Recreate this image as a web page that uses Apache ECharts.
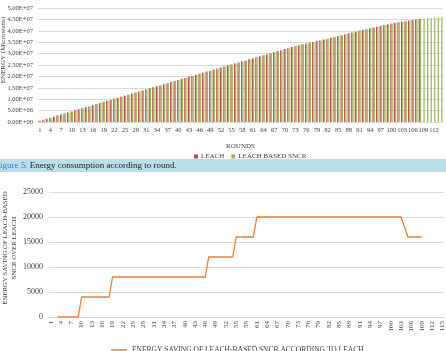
<!DOCTYPE html>
<html>
<head>
<meta charset="utf-8">
<script src="https://cdn.jsdelivr.net/npm/echarts@6/dist/echarts.min.js"></script>
<style>
html,body{margin:0;padding:0;background:#fff;}
#main{width:446px;height:351px;}
</style>
</head>
<body>
<div id="main"></div>
<script>
// rounds (categories) for both charts
var roundsTop = [];
for (var i = 1; i <= 114; i++) roundsTop.push(String(i));
var roundsBottom = [];
for (var j = 1; j <= 115; j++) roundsBottom.push(String(j));

// energy consumption, microwatts
var leachEnergy = [
    0.5e6, 0.95e6, 1.4e6, 1.9e6, 2.35e6, 2.8e6, 3.3e6, 3.7e6, 4.2e6, 4.65e6,
    5.1e6, 5.6e6, 6.0e6, 6.5e6, 6.95e6, 7.4e6, 7.9e6, 8.3e6, 8.8e6, 9.25e6,
    9.7e6, 10.2e6, 10.6e6, 11.1e6, 11.55e6, 12.0e6, 12.5e6, 12.9e6, 13.4e6, 13.85e6,
    14.3e6, 14.8e6, 15.2e6, 15.7e6, 16.1e6, 16.6e6, 17.05e6, 17.5e6, 18.0e6, 18.4e6,
    18.9e6, 19.3e6, 19.8e6, 20.2e6, 20.7e6, 21.15e6, 21.6e6, 22.1e6, 22.5e6, 23.0e6,
    23.4e6, 23.9e6, 24.3e6, 24.8e6, 25.2e6, 25.7e6, 26.1e6, 26.6e6, 27.0e6, 27.5e6,
    27.9e6, 28.4e6, 28.8e6, 29.3e6, 29.7e6, 30.2e6, 30.6e6, 31.1e6, 31.5e6, 32.0e6,
    32.4e6, 32.9e6, 33.3e6, 33.7e6, 34.1e6, 34.4e6, 34.8e6, 35.1e6, 35.5e6, 35.8e6,
    36.2e6, 36.5e6, 36.9e6, 37.3e6, 37.7e6, 38.1e6, 38.5e6, 38.9e6, 39.3e6, 39.6e6,
    40.0e6, 40.35e6, 40.7e6, 41.1e6, 41.45e6, 41.8e6, 42.15e6, 42.5e6, 42.85e6, 43.2e6,
    43.45e6, 43.7e6, 43.95e6, 44.2e6, 44.45e6, 44.7e6, 44.95e6, 45.2e6
];
// SNCR bars sit at the same height as LEACH, then keep going after LEACH stops
var sncrExtra = [45.35e6, 45.5e6, 45.65e6, 45.8e6, 45.95e6, 46.1e6];
var sncrEnergy = leachEnergy.concat(sncrExtra);

var yTopLabels = ['0.00E+00', '5.00E+06', '1.00E+07', '1.50E+07', '2.00E+07', '2.50E+07',
    '3.00E+07', '3.50E+07', '4.00E+07', '4.50E+07', '5.00E+07'];
var yBottomLabels = ['0', '5000', '10000', '15000', '20000', '25000'];

// energy saving of SNCR over LEACH per round
var savingValues = [
    null, null, 0, 0, 0, 0, 0, 0, 0,
    4000, 4000, 4000, 4000, 4000, 4000, 4000, 4000, 4000,
    8000, 8000, 8000, 8000, 8000, 8000, 8000, 8000, 8000, 8000,
    8000, 8000, 8000, 8000, 8000, 8000, 8000, 8000, 8000, 8000,
    8000, 8000, 8000, 8000, 8000, 8000, 8000, 8000,
    12000, 12000, 12000, 12000, 12000, 12000, 12000, 12000,
    16000, 16000, 16000, 16000, 16000, 16000,
    20000, 20000, 20000, 20000, 20000, 20000, 20000, 20000, 20000, 20000,
    20000, 20000, 20000, 20000, 20000, 20000, 20000, 20000, 20000, 20000,
    20000, 20000, 20000, 20000, 20000, 20000, 20000, 20000, 20000, 20000,
    20000, 20000, 20000, 20000, 20000, 20000, 20000, 20000, 20000, 20000,
    20000, 20000, 20000,
    18000,
    16000, 16000, 16000, 16000, 16000,
    null, null, null, null, null, null
];

var serif = '"Liberation Serif", "DejaVu Serif", serif';
var txt = '#404040';
var gridCol = '#d9d9d9';

var myChart = echarts.init(document.getElementById('main'), null, {renderer: 'canvas'});

var option = {
    animation: false,
    textStyle: {fontFamily: serif},
    grid: [
        {left: 38, right: 3, top: 8, height: 114},
        {left: 49, right: 2, top: 192, height: 125}
    ],
    legend: [
        {
            data: ['LEACH', 'LEACH BASED SNCR'],
            left: 189, top: 148,
            itemWidth: 4, itemHeight: 4, itemGap: 7,
            icon: 'rect',
            textStyle: {fontFamily: serif, fontSize: 7, color: txt, padding: [0, 0, 0, -2]}
        },
        {
            data: ['ENERGY SAVING OF LEACH-BASED SNCR ACCORDING TO LEACH'],
            left: 106, top: 341,
            itemWidth: 16, itemHeight: 1.5,
            icon: 'rect',
            textStyle: {fontFamily: serif, fontSize: 7.5, color: txt}
        }
    ],
    xAxis: [
        {
            type: 'category', gridIndex: 0, data: roundsTop,
            axisLine: {lineStyle: {color: gridCol}},
            axisTick: {show: false},
            axisLabel: {interval: 2, fontSize: 6.5, color: txt, margin: 5, fontFamily: serif},
            name: 'ROUNDS', nameLocation: 'middle', nameGap: 21,
            nameTextStyle: {fontSize: 7, color: txt, fontFamily: serif}
        },
        {
            type: 'category', gridIndex: 1, data: roundsBottom,
            axisLine: {lineStyle: {color: gridCol}},
            axisTick: {show: false},
            axisLabel: {interval: 2, rotate: 90, fontSize: 7, color: txt, margin: 4, fontFamily: serif}
        }
    ],
    yAxis: [
        {
            type: 'value', gridIndex: 0, min: 0, max: 5e7, interval: 5e6,
            axisLine: {show: false}, axisTick: {show: false},
            splitLine: {lineStyle: {color: gridCol}},
            axisLabel: {
                fontSize: 6.5, color: txt, margin: 5, fontFamily: serif,
                formatter: function (v) { return yTopLabels[Math.round(v / 5e6)]; }
            }
        },
        {
            type: 'value', gridIndex: 1, min: 0, max: 25000, interval: 5000,
            axisLine: {show: false}, axisTick: {show: false},
            splitLine: {lineStyle: {color: gridCol}},
            axisLabel: {
                fontSize: 8, color: txt, margin: 6, fontFamily: serif,
                formatter: function (v) { return yBottomLabels[Math.round(v / 5000)]; }
            }
        }
    ],
    series: [
        {
            name: 'LEACH', type: 'bar', xAxisIndex: 0, yAxisIndex: 0,
            data: leachEnergy, barGap: '0%', barCategoryGap: '30%',
            itemStyle: {color: '#c0504d'}
        },
        {
            name: 'LEACH BASED SNCR', type: 'bar', xAxisIndex: 0, yAxisIndex: 0,
            data: sncrEnergy, barGap: '0%', barCategoryGap: '30%',
            itemStyle: {color: '#9bbb59'}
        },
        {
            name: 'ENERGY SAVING OF LEACH-BASED SNCR ACCORDING TO LEACH',
            type: 'line', xAxisIndex: 1, yAxisIndex: 1,
            data: savingValues, symbol: 'none',
            lineStyle: {color: '#ed7d31', width: 1.3},
            itemStyle: {color: '#ed7d31'}
        }
    ],
    graphic: [
        {
            type: 'text', x: 3, y: 50, rotation: Math.PI / 2,
            style: {text: 'ENERGY (Microwatts)', font: '7px ' + serif, fill: txt,
                align: 'center', verticalAlign: 'middle'}
        },
        {
            type: 'rect', shape: {x: 0, y: 159, width: 446, height: 13},
            style: {fill: '#b9dfea'}, z: -1
        },
        {
            type: 'text', x: -5, y: 166,
            style: {
                text: '{b|Figure 5.} Energy consumption according to round.',
                font: '9px ' + serif, fill: '#1a1a1a', verticalAlign: 'middle',
                rich: {b: {fill: '#3b78b8', font: '9px ' + serif}}
            }
        },
        {
            type: 'text', x: 10, y: 248, rotation: Math.PI / 2,
            style: {text: 'ENERGY SAVING OF LEACH-BASED\nSNCR OVER LEACH', font: '6.8px ' + serif,
                fill: txt, align: 'center', verticalAlign: 'middle', lineHeight: 9}
        }
    ]
};
myChart.setOption(option);
</script>
</body>
</html>
